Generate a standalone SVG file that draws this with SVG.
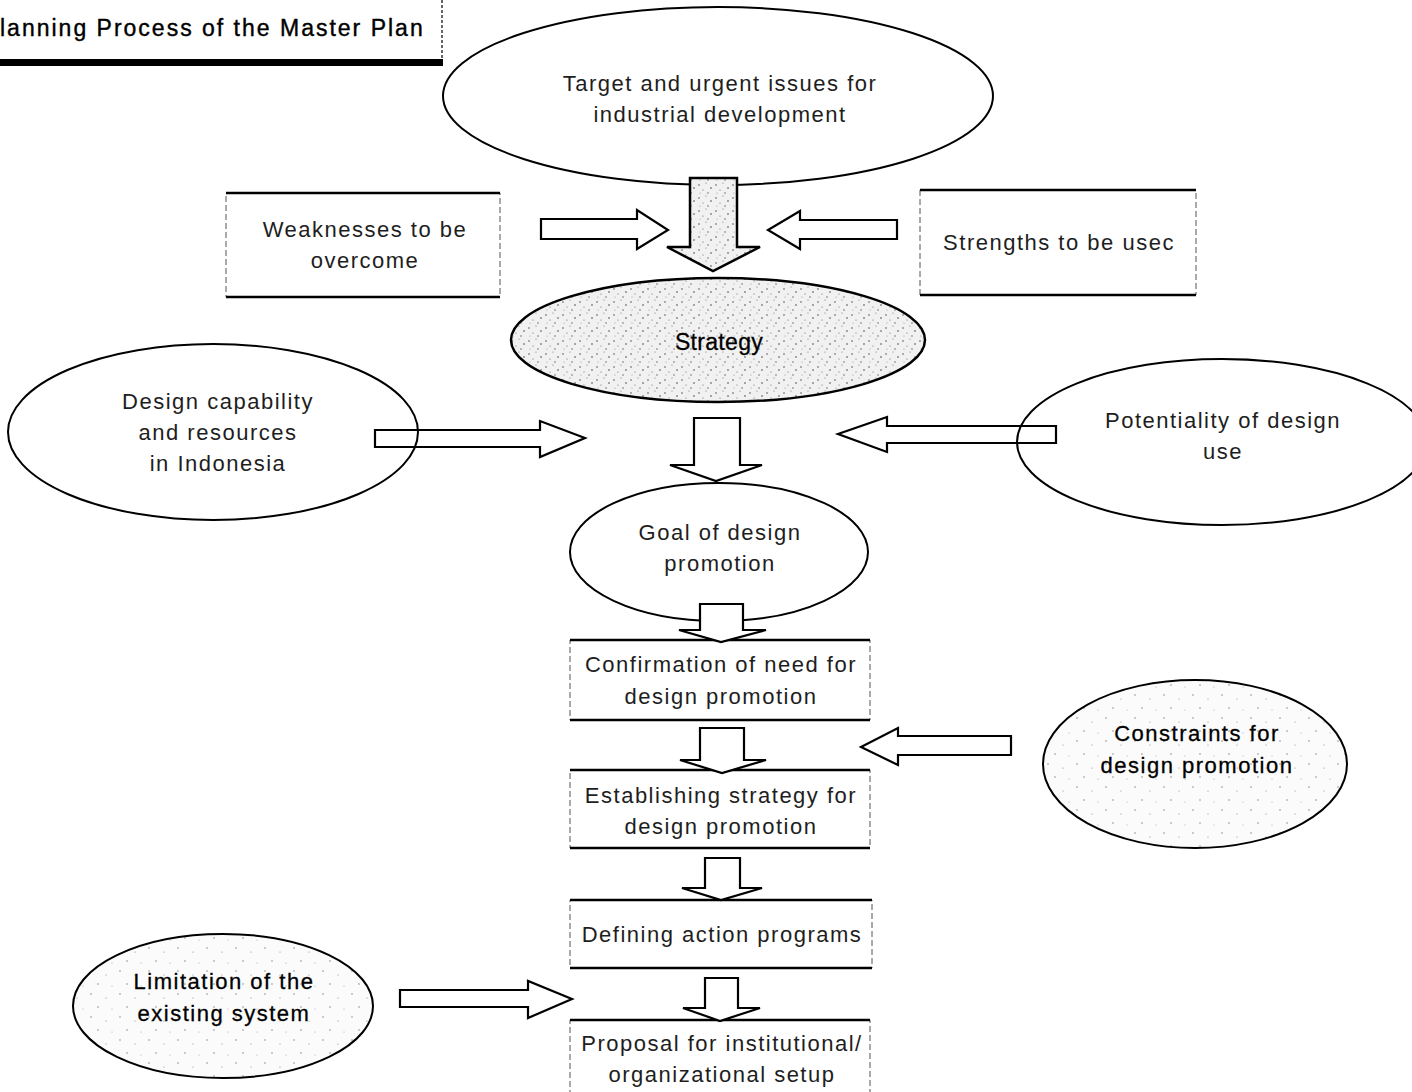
<svg xmlns="http://www.w3.org/2000/svg" width="1412" height="1092" viewBox="0 0 1412 1092">
  <defs>
    <!-- stipple fills -->
    <pattern id="dense" width="17" height="13" patternUnits="userSpaceOnUse">
      <rect width="17" height="13" fill="#f1f1f1"/>
      <circle cx="2" cy="3" r="0.8" fill="#555"/>
      <circle cx="9" cy="1" r="0.6" fill="#777"/>
      <circle cx="14" cy="6" r="0.8" fill="#444"/>
      <circle cx="6" cy="8" r="0.6" fill="#666"/>
      <circle cx="11" cy="11" r="0.7" fill="#555"/>
      <circle cx="3" cy="11" r="0.5" fill="#888"/>
    </pattern>
    <pattern id="sparse" width="29" height="23" patternUnits="userSpaceOnUse">
      <rect width="29" height="23" fill="#fbfbfb"/>
      <circle cx="4" cy="5" r="0.7" fill="#777"/>
      <circle cx="19" cy="9" r="0.6" fill="#888"/>
      <circle cx="11" cy="18" r="0.7" fill="#777"/>
      <circle cx="25" cy="20" r="0.5" fill="#999"/>
    </pattern>
    <style>
      text { font-family: "Liberation Sans", Arial, sans-serif; font-size: 22px; letter-spacing: 1.5px; fill: #1e1e1e; text-anchor: middle; }
      .title { text-anchor: start; fill: #000; font-size: 23px; letter-spacing: 2px; stroke: #000; stroke-width: 0.4; }
      .strong { fill: #000; stroke: #000; stroke-width: 0.3; }
      .ell { fill: #fff; stroke: #000; stroke-width: 2; }
      .ell-dense { fill: url(#dense); stroke: #000; stroke-width: 2.5; }
      .ell-sparse { fill: url(#sparse); stroke: #000; stroke-width: 2; }
      .box { fill: #fff; stroke: #555; stroke-width: 1; stroke-dasharray: 6 3; }
      .edge { stroke: #000; stroke-width: 2.5; }
      .arr { fill: none; stroke: #000; stroke-width: 2.2; stroke-linejoin: miter; }
      .arr-down { fill: #fff; stroke: #000; stroke-width: 2.2; stroke-linejoin: miter; }
      .arr-gray { fill: url(#dense); stroke: #000; stroke-width: 2.5; stroke-linejoin: miter; }
    </style>
  </defs>

  <rect width="1412" height="1092" fill="#fff"/>

  <!-- title banner -->
  <g id="title">
    <text class="title" x="0" y="36">lanning Process of the Master Plan</text>
    <line x1="442" y1="0" x2="442" y2="62" stroke="#333" stroke-width="1.5" stroke-dasharray="3 2"/>
    <rect x="0" y="59" width="443" height="7" fill="#000"/>
  </g>

  <!-- nodes -->
  <g id="target">
    <ellipse class="ell" cx="718" cy="96" rx="275" ry="89"/>
    <text x="720" y="91">Target and urgent issues for</text>
    <text x="720" y="122">industrial development</text>
  </g>

  <g id="weaknesses">
    <rect class="box" x="226" y="193" width="274" height="104"/>
    <line class="edge" x1="226" y1="193" x2="500" y2="193" stroke-width="1.5"/>
    <line class="edge" x1="226" y1="297" x2="500" y2="297"/>
    <text x="365" y="237">Weaknesses to be</text>
    <text x="365" y="268">overcome</text>
  </g>

  <g id="strengths">
    <rect class="box" x="920" y="190" width="276" height="105"/>
    <line class="edge" x1="920" y1="190" x2="1196" y2="190" stroke-width="1.5"/>
    <line class="edge" x1="920" y1="295" x2="1196" y2="295"/>
    <text x="1059" y="250">Strengths to be usec</text>
  </g>

  <g id="strategy">
    <ellipse class="ell-dense" cx="718" cy="340" rx="207" ry="62"/>
    <text class="strong" x="719" y="350" style="font-size:23px;letter-spacing:0.3px">Strategy</text>
  </g>

  <g id="capability">
    <ellipse class="ell" cx="213" cy="432" rx="205" ry="88"/>
    <text x="218" y="409">Design capability</text>
    <text x="218" y="440">and resources</text>
    <text x="218" y="471">in Indonesia</text>
  </g>

  <g id="potentiality">
    <ellipse class="ell" cx="1222" cy="442" rx="205" ry="83"/>
    <text x="1223" y="428">Potentiality of design</text>
    <text x="1223" y="459">use</text>
  </g>

  <g id="goal">
    <ellipse class="ell" cx="719" cy="552" rx="149" ry="69"/>
    <text x="720" y="540">Goal of design</text>
    <text x="720" y="571">promotion</text>
  </g>

  <g id="confirmation">
    <rect class="box" x="570" y="640" width="300" height="80"/>
    <line class="edge" x1="570" y1="640" x2="870" y2="640"/>
    <line class="edge" x1="570" y1="720" x2="870" y2="720"/>
    <text x="721" y="672">Confirmation of need for</text>
    <text x="721" y="704">design promotion</text>
  </g>

  <g id="constraints">
    <ellipse class="ell-sparse" cx="1195" cy="764" rx="152" ry="84"/>
    <text class="strong" x="1197" y="741">Constraints for</text>
    <text class="strong" x="1197" y="773">design promotion</text>
  </g>

  <g id="establishing">
    <rect class="box" x="570" y="770" width="300" height="78"/>
    <line class="edge" x1="570" y1="770" x2="870" y2="770"/>
    <line class="edge" x1="570" y1="848" x2="870" y2="848"/>
    <text x="721" y="803">Establishing strategy for</text>
    <text x="721" y="834">design promotion</text>
  </g>

  <g id="actions">
    <rect class="box" x="570" y="900" width="302" height="68"/>
    <line class="edge" x1="570" y1="900" x2="872" y2="900"/>
    <line class="edge" x1="570" y1="968" x2="872" y2="968"/>
    <text x="722" y="942">Defining action programs</text>
  </g>

  <g id="limitation">
    <ellipse class="ell-sparse" cx="223" cy="1006" rx="150" ry="72"/>
    <text class="strong" x="224" y="989">Limitation of the</text>
    <text class="strong" x="224" y="1021">existing system</text>
  </g>

  <g id="proposal">
    <rect class="box" x="570" y="1020" width="300" height="80"/>
    <line class="edge" x1="570" y1="1020" x2="870" y2="1020"/>
    <text x="722" y="1051">Proposal for institutional/</text>
    <text x="722" y="1082">organizational setup</text>
  </g>

  <!-- connectors: block arrows -->
  <g id="connectors">
    <!-- into strategy -->
    <polygon class="arr-gray" points="690,178 737,178 737,247 760,247 713,271 667,247 690,247"/>
    <polygon class="arr" points="541,219 637,219 637,210 668,230 637,249 637,239 541,239"/>
    <polygon class="arr" points="897,220 800,220 800,211 768,230 800,249 800,239 897,239"/>
    <!-- into goal -->
    <polygon class="arr-down" points="694,418 740,418 740,465 762,465 716,481 670,465 694,465"/>
    <polygon class="arr" points="375,430 540,430 540,421 585,438 540,457 540,447 375,447"/>
    <polygon class="arr" points="1056,426 887,426 887,417 838,434 887,452 887,443 1056,443"/>
    <!-- down the chain -->
    <polygon class="arr-down" points="700,604 743,604 743,630 766,630 721,642 679,630 700,630"/>
    <polygon class="arr-down" points="700,728 744,728 744,760 766,760 722,773 680,760 700,760"/>
    <polygon class="arr" points="1011,736 898,736 898,728 861,747 898,765 898,755 1011,755"/>
    <polygon class="arr-down" points="705,858 740,858 740,888 762,888 721,900 682,888 705,888"/>
    <polygon class="arr-down" points="705,978 738,978 738,1008 760,1008 720,1021 683,1008 705,1008"/>
    <polygon class="arr" points="400,990 528,990 528,981 572,999 528,1018 528,1007 400,1007"/>
  </g>
</svg>
